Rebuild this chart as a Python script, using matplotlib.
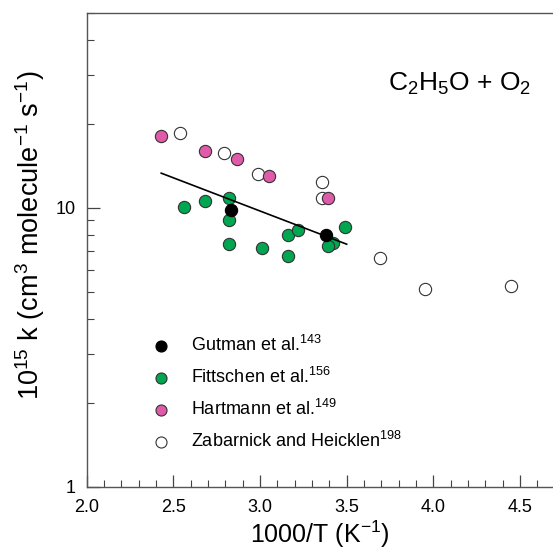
import matplotlib
matplotlib.use('Agg')
import matplotlib.pyplot as plt
from matplotlib.ticker import FixedLocator, LogLocator, MultipleLocator, NullFormatter, FuncFormatter

plt.rcParams['font.family'] = ['Liberation Sans', 'DejaVu Sans']
plt.rcParams['mathtext.default'] = 'regular'

# ── Data ──────────────────────────────────────────────────
gutman_x = [2.83, 3.38]
gutman_y = [9.8, 8.0]

fitt_x = [2.56, 2.68, 2.82, 2.82, 2.82, 3.01, 3.16, 3.16, 3.22, 3.49, 3.42, 3.39]
fitt_y = [10.1, 10.6, 10.8, 9.0, 7.4, 7.2, 6.7, 8.0, 8.3, 8.5, 7.5, 7.3]

hart_x = [2.43, 2.68, 2.87, 3.05, 3.39]
hart_y = [18.0, 16.0, 15.0, 13.0, 10.8]

zab_x = [2.54, 2.79, 2.99, 3.36, 3.36, 3.69, 3.95, 4.45]
zab_y = [18.6, 15.7, 13.2, 12.4, 10.8, 6.6, 5.1, 5.25]

fit_x = [2.43, 3.50]
fit_y = [13.3, 7.4]

GREEN = '#00a650'
PINK  = '#e05aaa'

fig = plt.figure(figsize=(5.53, 5.52), dpi=100)
ax = fig.add_axes([86.7/553, 65.3/552, 466.3/553, 474/552])

ms = 78
ax.scatter(fitt_x, fitt_y, s=ms, c=GREEN, edgecolors='#333333', linewidths=0.8,
           zorder=3, label='Fittschen et al.$^{156}$')
ax.plot(fit_x, fit_y, color='black', lw=1.2, zorder=4)
ax.scatter(gutman_x, gutman_y, s=ms, c='black', edgecolors='black', linewidths=0.8,
           zorder=5, label='Gutman et al.$^{143}$')
ax.scatter(zab_x, zab_y, s=ms, c='white', edgecolors='#333333', linewidths=0.8,
           zorder=3, label='Zabarnick and Heicklen$^{198}$')
ax.scatter(hart_x, hart_y, s=ms, c=PINK, edgecolors='#333333', linewidths=0.8,
           zorder=4, label='Hartmann et al.$^{149}$')

ax.set_yscale('log')
ax.set_xlim(2.0, 2.0 + 466.3/173.3)
ax.set_ylim(1, 50)

ax.xaxis.set_major_locator(MultipleLocator(0.5))
ax.xaxis.set_minor_locator(MultipleLocator(0.1))
ax.xaxis.set_major_formatter(FuncFormatter(lambda v, p: f'{v:.1f}'))
ax.yaxis.set_major_locator(FixedLocator([1, 10]))
ax.yaxis.set_minor_locator(LogLocator(base=10, subs=range(2, 10)))
ax.yaxis.set_major_formatter(FuncFormatter(lambda v, p: f'{v:g}'))
ax.yaxis.set_minor_formatter(NullFormatter())

ax.tick_params(which='both', direction='in', labelsize=13, color='#444444')
ax.tick_params(which='major', length=9, width=0.9)
ax.tick_params(which='minor', length=5, width=0.8)
ax.tick_params(axis='x', pad=9)
ax.tick_params(axis='y', pad=8)
for side in ['left', 'bottom', 'top']:
    ax.spines[side].set_color('#555555')
    ax.spines[side].set_linewidth(1.0)
ax.spines['right'].set_visible(False)

ax.set_xlabel('1000/T (K$^{-1}$)', fontsize=18, labelpad=2)
ax.set_ylabel('10$^{15}$ k (cm$^{3}$ molecule$^{-1}$ s$^{-1}$)', fontsize=19.5)
ax.yaxis.set_label_coords(-0.085, 0.53)

ax.text(0.646, 0.85, 'C$_{2}$H$_{5}$O + O$_{2}$', fontsize=19,
        transform=ax.transAxes, va='center', ha='left')

h, l = ax.get_legend_handles_labels()
order = [1, 0, 3, 2]
ax.legend([h[i] for i in order], [l[i] for i in order], loc='upper left',
          bbox_to_anchor=(0.139, 0.32), frameon=False, fontsize=13,
          handlelength=1.0, handletextpad=1.2, borderpad=0, borderaxespad=0,
          labelspacing=0.66, markerscale=0.9, scatterpoints=1)

fig.savefig('out.png', dpi=100)
